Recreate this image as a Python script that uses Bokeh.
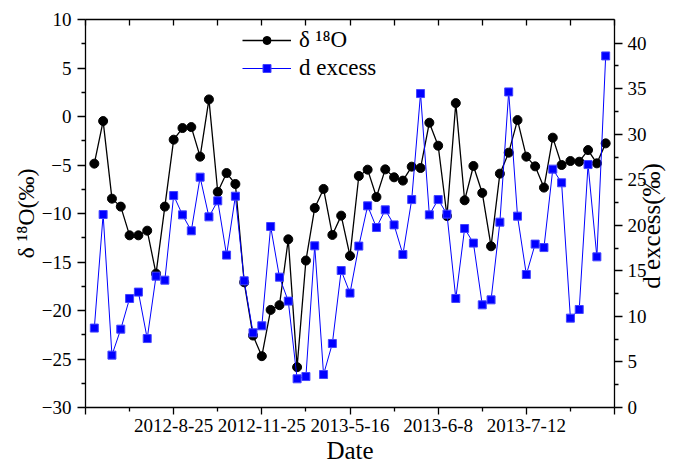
import math
from bokeh.plotting import figure
from bokeh.models import (ColumnDataSource, LinearAxis, Range1d, FixedTicker,
                          Legend, LegendItem)
from bokeh.embed import file_html
from bokeh.resources import INLINE

# ---------------- data ----------------
sample = list(range(1, 60))
d18o = [-4.86, -0.47, -8.47, -9.29, -12.25, -12.25, -11.77, -16.2, -9.29, -2.39,
        -1.19, -1.09, -4.14, 1.76, -7.78, -5.83, -6.96, -17.09, -22.58, -24.71,
        -19.94, -19.45, -12.66, -25.84, -14.85, -9.43, -7.47, -12.21, -10.22, -14.37,
        -6.13, -5.48, -8.3, -5.45, -6.27, -6.61, -5.17, -5.31, -0.64, -3.01,
        -10.26, 1.38, -8.64, -5.1, -7.88, -13.38, -5.89, -3.73, -0.37, -4.14,
        -5.14, -7.33, -2.18, -5.0, -4.59, -4.66, -3.46, -4.83, -2.77]
dexcess = [8.72, 21.19, 5.75, 8.6, 11.97, 12.67, 7.57, 14.42, 13.98, 23.27,
           21.15, 19.4, 25.29, 20.93, 22.69, 16.73, 23.2, 13.91, 8.2, 8.97,
           19.87, 14.31, 11.68, 3.15, 3.4, 17.75, 3.62, 7.03, 15.04, 12.56,
           17.72, 22.14, 19.76, 21.7, 20.05, 16.8, 22.83, 34.47, 21.15, 22.83,
           21.23, 11.97, 19.65, 18.05, 11.27, 11.82, 20.35, 34.65, 21.01, 14.6,
           17.94, 17.56, 26.17, 24.67, 9.81, 10.76, 26.67, 16.54, 38.6]
date_ticks = [10, 20, 30, 40, 50]
date_labels = ["2012-8-25", "2012-11-25", "2013-5-16", "2013-6-8", "2013-7-12"]

FONT = "Liberation Serif"

src = ColumnDataSource(dict(x=sample, o=d18o, d=dexcess))

p = figure(width=683, height=466, x_range=Range1d(0, 60), y_range=Range1d(-30, 10),
           output_backend="svg", toolbar_location=None,
           min_border_left=85, min_border_right=69, min_border_top=19,
           min_border_bottom=58)
p.outline_line_color = None
p.xgrid.visible = False
p.ygrid.visible = False
p.background_fill_color = "white"
p.border_fill_color = "white"

p.extra_y_ranges = {"dx": Range1d(0, 42.6)}


def style(ax, out_major, out_minor, in_major=0, in_minor=0):
    ax.axis_line_color = "black"
    ax.axis_line_width = 1.3
    ax.major_tick_line_color = "black"
    ax.minor_tick_line_color = "black"
    ax.major_tick_line_width = 1.3
    ax.minor_tick_line_width = 1.3
    ax.major_tick_out = out_major
    ax.minor_tick_out = out_minor
    ax.major_tick_in = in_major
    ax.minor_tick_in = in_minor
    ax.major_label_text_font = FONT
    ax.major_label_text_font_size = "19px"
    ax.major_label_text_color = "black"
    ax.axis_label_text_font = FONT
    ax.axis_label_text_font_style = "normal"
    ax.axis_label_text_color = "black"


# bottom axis
xb = p.xaxis[0]
xb.ticker = FixedTicker(ticks=[0] + date_ticks + [60], minor_ticks=[5, 15, 25, 35, 45, 55])
xb.major_label_overrides = {0: "", 60: "", **{t: l for t, l in zip(date_ticks, date_labels)}}
style(xb, 7, 4)
xb.major_label_standoff = 4
xb.axis_label = "Date"
xb.axis_label_text_font_size = "25px"
xb.axis_label_standoff = 2

# left axis
yl = p.yaxis[0]
yl.ticker = FixedTicker(ticks=list(range(-30, 11, 5)),
                        minor_ticks=[-27.5, -22.5, -17.5, -12.5, -7.5, -2.5, 2.5, 7.5])
style(yl, 8, 4)
yl.major_label_standoff = 6
yl.axis_label = "δ ¹⁸O(‰)"
yl.axis_label_text_font_size = "24px"
yl.axis_label_standoff = 0

# right axis; title reads upwards as in the reference
yr = LinearAxis(y_range_name="dx")
yr.ticker = FixedTicker(ticks=list(range(0, 41, 5)),
                        minor_ticks=[2.5, 7.5, 12.5, 17.5, 22.5, 27.5, 32.5, 37.5])
style(yr, 8, 4)
yr.major_label_standoff = 5
yr.axis_label = "\u00a0" * 19 + "d excess(‰)"
yr.axis_label_text_font_size = "25px"
yr.axis_label_standoff = 2
yr.axis_label_orientation = math.pi / 2
yr.axis_label_align = "start"
p.add_layout(yr, "right")

# top axis (ticks only)
xt = LinearAxis()
xt.ticker = FixedTicker(ticks=[0] + date_ticks + [60], minor_ticks=[5, 15, 25, 35, 45, 55])
style(xt, 0, 0, 6, 6)
xt.major_label_text_font_size = "0px"
xt.major_label_standoff = 0
p.add_layout(xt, "above")

# series
l1 = p.line("x", "o", source=src, line_color="black", line_width=1.3)
c1 = p.scatter("x", "o", source=src, marker="circle", size=9, fill_color="black",
               line_color="black")
l2 = p.line("x", "d", source=src, line_color="#0000ff", line_width=1.0, y_range_name="dx")
c2 = p.scatter("x", "d", source=src, marker="square", size=8, fill_color="#0000ff",
               line_color="#4444ff", y_range_name="dx")

legend = Legend(items=[LegendItem(label="δ ¹⁸O", renderers=[l1, c1]),
                       LegendItem(label="d excess", renderers=[l2, c2])],
                location=(157, 326))
legend.border_line_color = None
legend.background_fill_alpha = 0
legend.label_text_font = FONT
legend.label_text_font_size = "23px"
legend.label_text_color = "black"
legend.glyph_width = 49
legend.glyph_height = 20
legend.label_standoff = 8
legend.padding = 5
legend.spacing = 2
legend.margin = 0
p.add_layout(legend)

open("out.html", "w").write(file_html(p, INLINE))
